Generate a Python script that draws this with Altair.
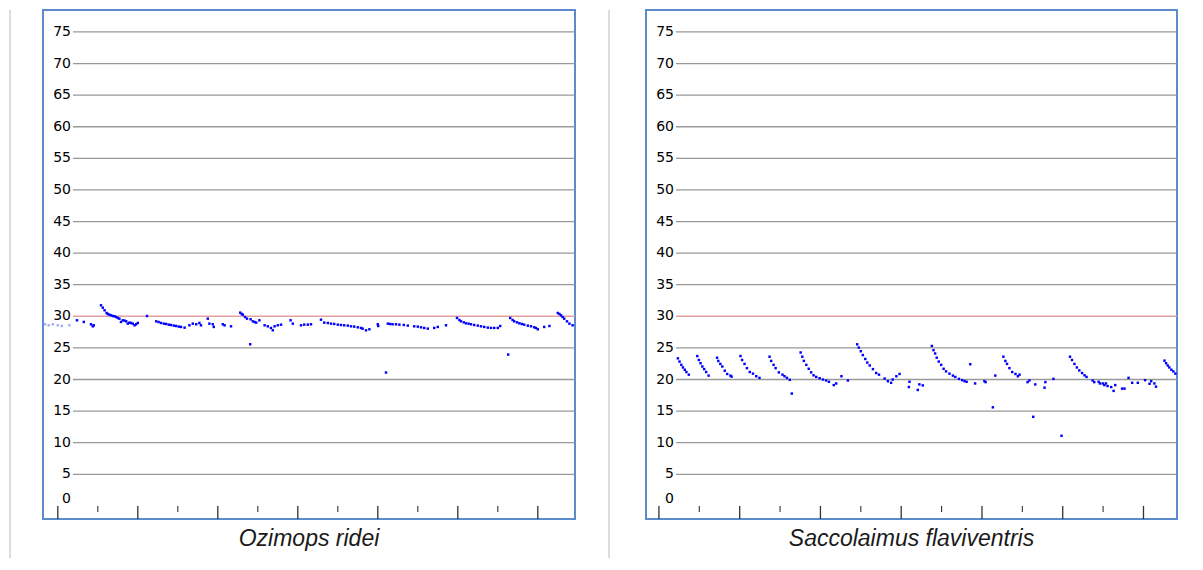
import altair as alt
import pandas as pd

# ---------------- data ----------------
# x: time (ms, arbitrary origin at first tick), y: frequency (kHz)
ozi_t = [4.8, 6.5, 8.3, 8.75, 9.0,
         10.8, 11.25, 11.7, 12.2, 12.5, 12.9, 13.3, 13.75, 14.2, 14.6, 15.0, 15.4, 15.8, 16.25, 16.7, 17.1, 17.5, 17.9, 18.3, 18.75, 19.2, 19.6, 20.0,
         22.3,
         24.6, 25.2, 25.8, 26.5, 27.1, 27.75, 28.3, 29.0, 29.6, 30.25, 30.8, 31.7,
         32.9, 33.75, 34.6, 35.4, 35.8, 37.5, 37.9, 38.75, 39.0, 41.25, 41.7, 43.3,
         45.6, 46.0, 46.25, 46.8, 47.3, 48.2, 48.75, 49.2, 49.6, 50.4, 48.1,
         51.7, 52.5, 53.3, 53.75, 54.2, 55.0, 55.8, 58.2, 58.75, 60.8, 62.5,
         61.6, 63.3,
         65.8, 66.6, 67.5, 68.3, 69.1, 70.0, 70.8, 71.6, 72.5, 73.3, 74.1, 75.0, 75.8, 76.2, 77.05, 77.9,
         80.0, 80.1, 82.05,
         82.5, 83.1, 83.7, 84.55, 85.4, 86.5, 87.5, 89.1, 90.0, 90.8, 91.6, 92.5, 94.1, 95.0, 97.05,
         99.8, 100.4, 100.8, 101.5, 102.05, 102.7, 103.3, 104.1, 105.0, 105.8, 106.6, 107.5, 108.3, 109.1, 110.0, 110.6, 112.6,
         113.1, 113.7, 114.1, 114.8, 115.4, 116.0, 116.6, 117.5, 118.3, 119.1, 119.55, 120.0, 121.6, 122.9,
         125.0, 125.4, 125.8, 126.2, 126.6, 127.3, 127.9, 128.7]
ozi_f = [29.37, 29.11, 28.74, 28.42, 28.58,
         31.74, 31.37, 30.95, 30.53, 30.37, 30.26, 30.16, 30.05, 30.0, 29.89, 29.74, 29.63, 29.11, 29.37, 29.32, 29.21, 28.84, 29.0, 28.95, 28.84, 28.58, 28.74, 28.95,
         30.05,
         29.21, 29.1, 28.95, 28.84, 28.79, 28.68, 28.63, 28.53, 28.47, 28.37, 28.32, 28.21,
         28.58, 28.84, 28.74, 28.95, 28.58, 29.63, 28.84, 28.74, 28.32, 28.74, 28.58, 28.42,
         30.58, 30.37, 30.26, 29.89, 29.63, 29.53, 29.21, 29.1, 29.0, 29.37, 25.58,
         28.58, 28.42, 28.16, 27.79, 28.42, 28.58, 28.68, 29.37, 28.84, 28.58, 28.68,
         28.68, 28.74,
         29.47, 29.0, 28.95, 28.84, 28.79, 28.68, 28.63, 28.58, 28.53, 28.42, 28.37, 28.26, 28.16, 28.05, 27.79, 27.95,
         28.74, 28.47, 21.11,
         28.84, 28.79, 28.74, 28.74, 28.68, 28.63, 28.53, 28.42, 28.37, 28.26, 28.16, 28.05, 28.16, 28.32, 28.58,
         29.74, 29.42, 29.21, 29.05, 28.89, 28.84, 28.74, 28.63, 28.53, 28.42, 28.32, 28.21, 28.16, 28.16, 28.16, 28.47, 23.95,
         29.74, 29.42, 29.21, 29.05, 28.89, 28.79, 28.68, 28.53, 28.42, 28.26, 28.16, 27.95, 28.32, 28.47,
         30.53, 30.37, 30.16, 29.89, 29.63, 29.21, 28.84, 28.58]
# faint (light) points at the far left of the first panel
ozi_faint_t = [-3.2, -2.3, -1.25, 0.0, 1.0, 2.9]
ozi_faint_f = [28.74, 28.58, 28.74, 28.58, 28.47, 28.58]

sac_t = [4.7, 5.1, 5.55, 5.95, 6.4, 6.8, 7.4,
         9.5, 9.9, 10.3, 10.75, 11.2, 11.7, 12.3,
         14.4, 14.7, 15.2, 15.7, 16.3, 16.9, 17.7, 18.0,
         20.2, 20.6, 21.2, 21.8, 22.5, 23.3, 24.1, 24.9,
         27.4, 27.8, 28.4, 28.9, 29.7, 30.6, 31.1, 31.7, 32.4, 32.9,
         35.1, 35.5, 35.9, 36.5, 37.1, 37.7, 38.3, 38.96, 39.8, 40.6, 41.4, 42.1,
         43.3, 43.9, 45.2, 46.8,
         49.1, 49.5, 50.0, 50.5, 51.1, 51.6, 52.2, 53.0, 53.8, 54.5, 55.9, 56.7, 57.5, 57.9, 58.8, 59.6,
         61.9, 62.05, 64.1, 64.5, 65.35,
         67.6, 68.0, 68.4, 68.8, 69.3, 69.9, 70.5, 71.1, 71.95, 72.8, 73.4, 74.3, 75.1, 75.7, 76.2,
         77.1, 78.3, 80.6, 80.9, 82.7, 83.3,
         85.3, 85.8, 86.2, 86.8, 87.5, 88.3, 88.9, 89.3,
         91.3, 91.75, 92.7, 93.2, 95.5, 95.7, 97.7, 99.7,
         101.8, 102.3, 102.9, 103.5, 104.1, 104.8, 105.4, 105.9,
         107.4, 107.8, 108.9, 109.2, 109.9, 110.3, 110.7, 111.1, 112.0, 112.6, 113.0, 114.7, 115.3, 116.3, 117.2, 118.6, 120.4, 121.5, 121.9, 122.7, 123.1,
         125.2, 125.6, 126.0, 126.4, 126.9, 127.4, 127.9]
sac_f = [23.35, 22.84, 22.32, 21.91, 21.55, 21.19, 20.77,
         23.71, 23.09, 22.58, 22.06, 21.65, 21.19, 20.62,
         23.45, 22.94, 22.47, 22.06, 21.39, 20.88, 20.62, 20.46,
         23.71, 23.09, 22.47, 21.8, 21.19, 20.93, 20.52, 20.26,
         23.61, 22.94, 22.32, 21.8, 21.13, 20.77, 20.52, 20.26, 19.95, 17.78,
         24.28, 23.61, 22.94, 22.32, 21.7, 21.13, 20.67, 20.41, 20.21, 20.0, 19.85, 19.64,
         19.12, 19.38, 20.52, 19.85,
         25.57, 25.05, 24.48, 23.87, 23.25, 22.68, 22.22, 21.65, 21.03, 20.77, 20.15, 19.74, 19.48, 20.0, 20.52, 20.88,
         18.81, 19.64, 18.35, 19.23, 19.07,
         25.31, 24.64, 24.12, 23.45, 22.84, 22.32, 21.7, 21.29, 20.93, 20.62, 20.41, 20.1, 19.9, 19.74, 19.64,
         22.42, 19.38, 19.74, 19.59, 15.6, 20.62,
         23.61, 22.94, 22.47, 21.8, 21.19, 20.88, 20.52, 20.77,
         19.59, 19.85, 14.1, 19.23, 18.71, 19.59, 20.1, 11.1,
         23.61, 23.09, 22.47, 21.91, 21.44, 21.03, 20.67, 20.41,
         19.85, 19.59, 19.64, 19.38, 19.38, 19.12, 19.38, 18.97, 18.81, 18.2, 19.12, 18.56, 18.56, 20.26, 19.48, 19.48, 19.9, 19.33, 19.74, 19.38, 18.87,
         22.99, 22.58, 22.22, 21.91, 21.55, 21.29, 20.93]

captions = ["Ozimops ridei", "Saccolaimus flaviventris"]
y_labels = [0, 5, 10, 15, 20, 25, 30, 35, 40, 45, 50, 55, 60, 65, 70, 75]
grid_vals = [5, 10, 15, 20, 25, 35, 40, 45, 50, 55, 60, 65, 70, 75]
ref_line = [30]
major_ticks = [0, 20, 40, 60, 80, 100, 120]
minor_ticks = [10, 30, 50, 70, 90, 110]

# ---------------- layout / style ----------------
W1, W2, H = 532, 531, 509
YDOM = [-2.07, 78.47]
XDOM1 = [-3.7, 129.3]
XDOM2 = [-3.2, 128.3]
BLUE = "#0000ff"
FRAME = "#5b8bcb"
GRID = "#999999"
PINK = "#e3a2a2"
BORDER = "#dcdcdc"


def panel(t, f, xdom, width, caption, faint=None, left_border=False, separator=False):
    xs = alt.Scale(domain=xdom, nice=False, zero=False)
    ys = alt.Scale(domain=YDOM, nice=False, zero=False)

    grid = alt.Chart(pd.DataFrame({"v": grid_vals})).mark_rule(
        color=GRID, strokeWidth=1.3
    ).encode(y=alt.Y("v:Q", scale=ys, axis=None), x=alt.value(30), x2=alt.value(width))

    ref = alt.Chart(pd.DataFrame({"v": ref_line})).mark_rule(
        color=PINK, strokeWidth=1.5
    ).encode(y=alt.Y("v:Q", scale=ys, axis=None), x=alt.value(30), x2=alt.value(width))

    lab_df = pd.DataFrame({"v": y_labels, "lab": [str(v) for v in y_labels]})
    labels = alt.Chart(lab_df).transform_filter("datum.v > 0").mark_text(
        align="right", baseline="middle", font="DejaVu Sans", fontSize=14, color="#000000"
    ).encode(y=alt.Y("v:Q", scale=ys, axis=None), x=alt.value(28), text="lab:N")
    zero_lab = alt.Chart(lab_df).transform_filter("datum.v == 0").mark_text(
        align="right", baseline="middle", font="DejaVu Sans", fontSize=14, color="#000000", dy=-7
    ).encode(y=alt.Y("v:Q", scale=ys, axis=None), x=alt.value(28), text="lab:N")

    maj_df = pd.DataFrame({"k": major_ticks, "base": [0] * len(major_ticks)})
    min_df = pd.DataFrame({"k": minor_ticks, "base": [0] * len(minor_ticks)})
    tmaj = alt.Chart(maj_df).mark_rule(color="#333333", strokeWidth=1.3).encode(
        x=alt.X("k:Q", scale=xs, axis=None),
        y=alt.Y("base:Q", scale=ys, axis=None), y2=alt.value(H))
    tmin = alt.Chart(min_df).mark_rule(color="#333333", strokeWidth=1.1).encode(
        x=alt.X("k:Q", scale=xs, axis=None),
        y=alt.Y("base:Q", scale=ys, axis=None), y2=alt.value(H - 7))

    cap = alt.Chart(pd.DataFrame({"c": [caption]})).mark_text(
        align="center", baseline="middle", font="Liberation Sans", fontSize=23,
        fontStyle="italic", color="#1a1a1a"
    ).encode(x=alt.value(width / 2), y=alt.value(H + 20), text="c:N")

    layers = [grid, ref, labels, zero_lab, tmaj, tmin, cap]

    if faint is not None:
        fpts = alt.Chart(pd.DataFrame({"t": faint[0], "f": faint[1]})).mark_square(
            size=6, color="#a4acf2", opacity=1
        ).encode(x=alt.X("t:Q", scale=xs, axis=None), y=alt.Y("f:Q", scale=ys, axis=None))
        layers.append(fpts)

    pts = alt.Chart(pd.DataFrame({"t": t, "f": f})).mark_square(
        size=6, color=BLUE, opacity=1
    ).encode(x=alt.X("t:Q", scale=xs, axis=None), y=alt.Y("f:Q", scale=ys, axis=None))
    layers.append(pts)

    one = pd.DataFrame({"a": [0]})
    if left_border:
        lb = alt.Chart(one).mark_rule(color=BORDER, strokeWidth=2).encode(
            x=alt.value(-33), y=alt.value(0), y2=alt.value(548))
        layers = [lb] + layers
    if separator:
        sep = alt.Chart(one).mark_rule(color=BORDER, strokeWidth=2).encode(
            x=alt.value(-37), y=alt.value(0), y2=alt.value(548))
        layers = [sep] + layers

    return alt.layer(*layers).properties(width=width, height=H)


left = panel(ozi_t, ozi_f, XDOM1, W1, captions[0],
             faint=(ozi_faint_t, ozi_faint_f), left_border=True)
right = panel(sac_t, sac_f, XDOM2, W2, captions[1], separator=True)

chart = alt.hconcat(left, right, spacing=30).configure_view(
    stroke=FRAME, strokeWidth=2
).properties(padding={"left": 0, "top": 0, "right": 5, "bottom": 1},
             background="white")

chart.save("out.html", embed_options={"renderer": "svg", "actions": False})
